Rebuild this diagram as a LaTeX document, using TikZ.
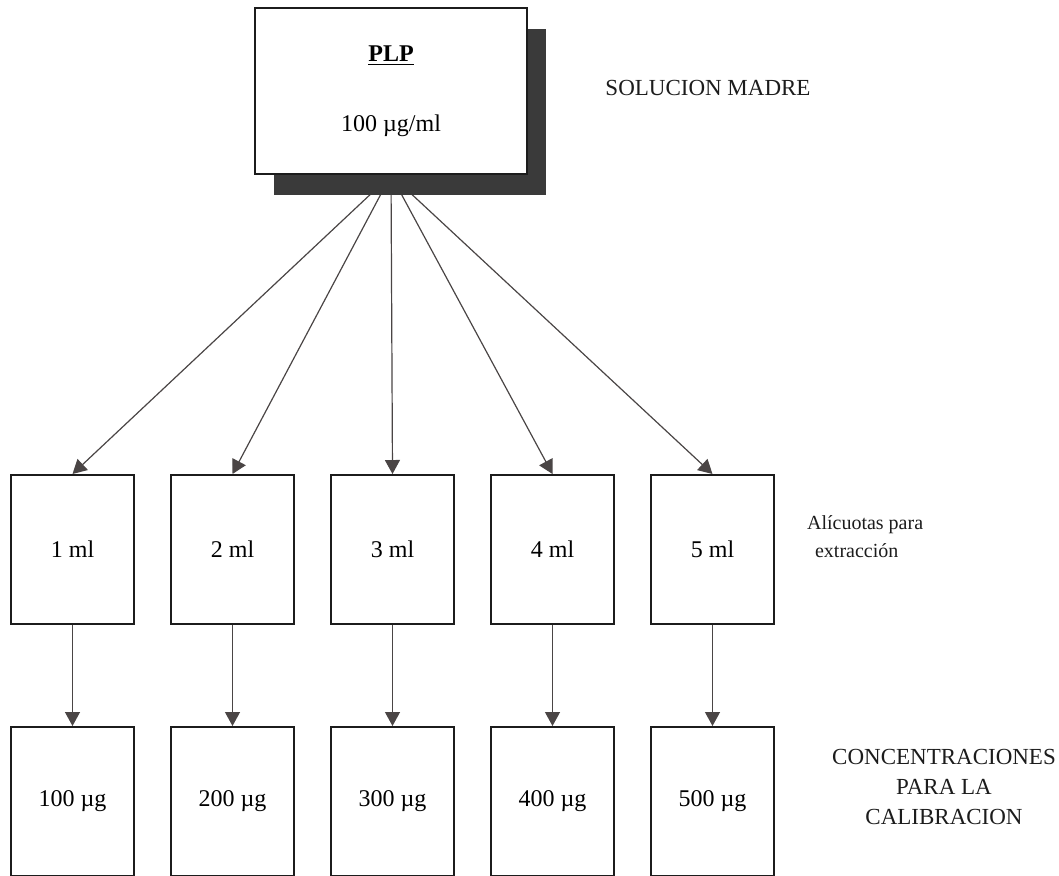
\documentclass[tikz,border=0pt]{standalone}
\usepackage{fontspec}
\setmainfont{Liberation Serif}
\usetikzlibrary{positioning,arrows.meta,shadows,backgrounds}
\definecolor{ink}{HTML}{1C1C1C}
\definecolor{wire}{HTML}{4A4545}
\definecolor{shade}{HTML}{3A3A3A}

\begin{document}
\begin{tikzpicture}[
  x=0.5pt, y=-0.5pt,
  node distance=17.5pt,
  vial/.style  = {draw=ink, line width=1pt, fill=white, inner sep=0pt,
                  minimum width=61.5pt, minimum height=74.5pt,
                  font=\fontsize{12}{14}\selectfont},
  stock/.style = {draw=ink, line width=1pt, fill=white, inner sep=0pt, align=center,
                  minimum width=136pt, minimum height=83pt,
                  font=\fontsize{12}{13}\selectfont,
                  drop shadow={shadow xshift=9.5pt, shadow yshift=-10.5pt, fill=shade, opacity=1}},
  note/.style  = {font=\fontsize{11.5}{15}\selectfont, text=ink, align=center},
  pour/.style  = {-{Triangle[length=7pt, width=7.5pt]}, draw=wire, line width=0.6pt},
]
\useasboundingbox (0,0) rectangle (1059,875);

\node[stock] (src) at (391,91) {\underline{\textbf{PLP}}\\[22pt]100 µg/ml};
\node[note] (madre) at (708,88) {SOLUCION MADRE};

% alicuotas
\node[vial] (a1) at (72.5,549.5) {1 ml};
\node[vial, right=of a1] (a2) {2 ml};
\node[vial, right=of a2] (a3) {3 ml};
\node[vial, right=of a3] (a4) {4 ml};
\node[vial, right=of a4] (a5) {5 ml};
\node[note, align=left, font=\fontsize{10}{14}\selectfont, anchor=west] (alic) at (800,537)
  {Alícuotas para\\\hspace{4pt}extracción};

% concentraciones
\node[vial, below=50.5pt of a1] (c1) {100 µg};
\node[vial, below=50.5pt of a2] (c2) {200 µg};
\node[vial, below=50.5pt of a3] (c3) {300 µg};
\node[vial, below=50.5pt of a4] (c4) {400 µg};
\node[vial, below=50.5pt of a5] (c5) {500 µg};
\node[note] (calib) at (944,787) {CONCENTRACIONES\\PARA LA\\CALIBRACION};

\begin{scope}[on background layer]
  \draw[pour] (src.south) -- (a1.north);
  \draw[pour] (src.south) -- (a2.north);
  \draw[pour] (src.south) -- (a3.north);
  \draw[pour] (src.south) -- (a4.north);
  \draw[pour] (src.south) -- (a5.north);
\end{scope}

\draw[pour] (a1) -- (c1);
\draw[pour] (a2) -- (c2);
\draw[pour] (a3) -- (c3);
\draw[pour] (a4) -- (c4);
\draw[pour] (a5) -- (c5);

\end{tikzpicture}
\end{document}
